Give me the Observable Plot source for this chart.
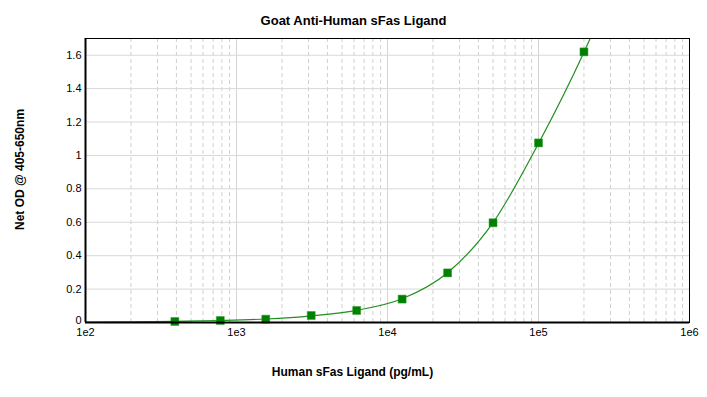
<!DOCTYPE html>
<html>
<head>
<meta charset="utf-8">
<script src="https://cdn.jsdelivr.net/npm/d3@7"></script>
<script src="https://cdn.jsdelivr.net/npm/@observablehq/plot@0.6"></script>
<style>
  html, body { margin: 0; padding: 0; background: #fff; }
</style>
</head>
<body>
<div id="chart"></div>
<script>
// Standard points (concentration pg/mL, net OD)
const concentrations = [390.625, 781.25, 1562.5, 3125, 6250, 12500, 25000, 50000, 100000, 200000];
const odValues = [0.006, 0.012, 0.020, 0.042, 0.072, 0.140, 0.297, 0.597, 1.075, 1.620];

// Fitted curve
const curveX = [100, 200, 390.625, 781.25, 1562.5, 3125, 6250, 12500, 25000, 50000, 100000, 200000, 225000];
const curveY = [0.002, 0.004, 0.007, 0.012, 0.021, 0.040, 0.073, 0.142, 0.298, 0.598, 1.072, 1.618, 1.72];

// Tick labels
const xMajorTicks = [1e2, 1e3, 1e4, 1e5, 1e6];
const xTickLabels = ["1e2", "1e3", "1e4", "1e5", "1e6"];
const yTicks = [0, 0.2, 0.4, 0.6, 0.8, 1, 1.2, 1.4, 1.6];
const yTickLabels = ["0", "0.2", "0.4", "0.6", "0.8", "1", "1.2", "1.4", "1.6"];

const title = "Goat Anti-Human sFas Ligand";
const xLabel = "Human sFas Ligand (pg/mL)";
const yLabel = "Net OD @ 405-650nm";

const xMinorTicks = [];
for (const d of [1e2, 1e3, 1e4, 1e5]) for (let k = 2; k <= 9; k++) xMinorTicks.push(d * k);

const points = concentrations.map((c, i) => ({x: c, y: odValues[i]}));
const curve = curveX.map((c, i) => ({x: c, y: curveY[i]}));
const fmtY = d => yTickLabels[yTicks.indexOf(d)];

const chart = Plot.plot({
  width: 707,
  height: 397,
  marginLeft: 85,
  marginRight: 18,
  marginTop: 38,
  marginBottom: 75,
  style: {fontFamily: "'Liberation Sans', Arial, sans-serif", fontSize: "11px", color: "#000", background: "#fff"},
  x: {type: "log", domain: [1e2, 1e6], axis: null},
  y: {domain: [0, 1.7], axis: null},
  marks: [
    Plot.ruleX(xMinorTicks, {stroke: "#d0d0d0", strokeDasharray: "4,3"}),
    Plot.ruleX(xMajorTicks, {stroke: "#d4d4d4"}),
    Plot.ruleY(yTicks.filter(d => d > 0), {stroke: "#d8d8d8"}),
    Plot.line(curve, {x: "x", y: "y", stroke: "#1f8f1f", strokeWidth: 1.2, curve: "monotone-x", clip: true}),
    Plot.dot(points, {x: "x", y: "y", symbol: "square", r: 4.5, fill: "#008000", stroke: "#2f9a2f", strokeWidth: 0.5}),
    Plot.frame({stroke: "#000"}),
    Plot.ruleX([1e2], {stroke: "#000", strokeWidth: 2}),
    Plot.ruleY([0], {stroke: "#000", strokeWidth: 2}),
    Plot.axisX({ticks: xMajorTicks, tickSize: 0, tickPadding: 6, label: null,
      tickFormat: d => xTickLabels[xMajorTicks.indexOf(d)], fontSize: 11}),
    Plot.axisY({ticks: yTicks.filter(d => d > 0), tickSize: 0, tickPadding: 4, label: null,
      tickFormat: fmtY, fontSize: 11}),
    Plot.axisY({ticks: [0], tickSize: 0, tickPadding: 4, label: null, dy: -2,
      tickFormat: fmtY, fontSize: 11}),
    Plot.text([title], {frameAnchor: "top", dx: -34, dy: -23, fontWeight: "bold", fontSize: 13}),
    Plot.text([xLabel], {frameAnchor: "bottom", dx: -35, dy: 53, fontWeight: "bold", fontSize: 12}),
    Plot.text([yLabel], {frameAnchor: "left", textAnchor: "middle", dx: -65, dy: -11, rotate: -90, fontWeight: "bold", fontSize: 12})
  ]
});
document.getElementById("chart").appendChild(chart);
</script>
</body>
</html>
